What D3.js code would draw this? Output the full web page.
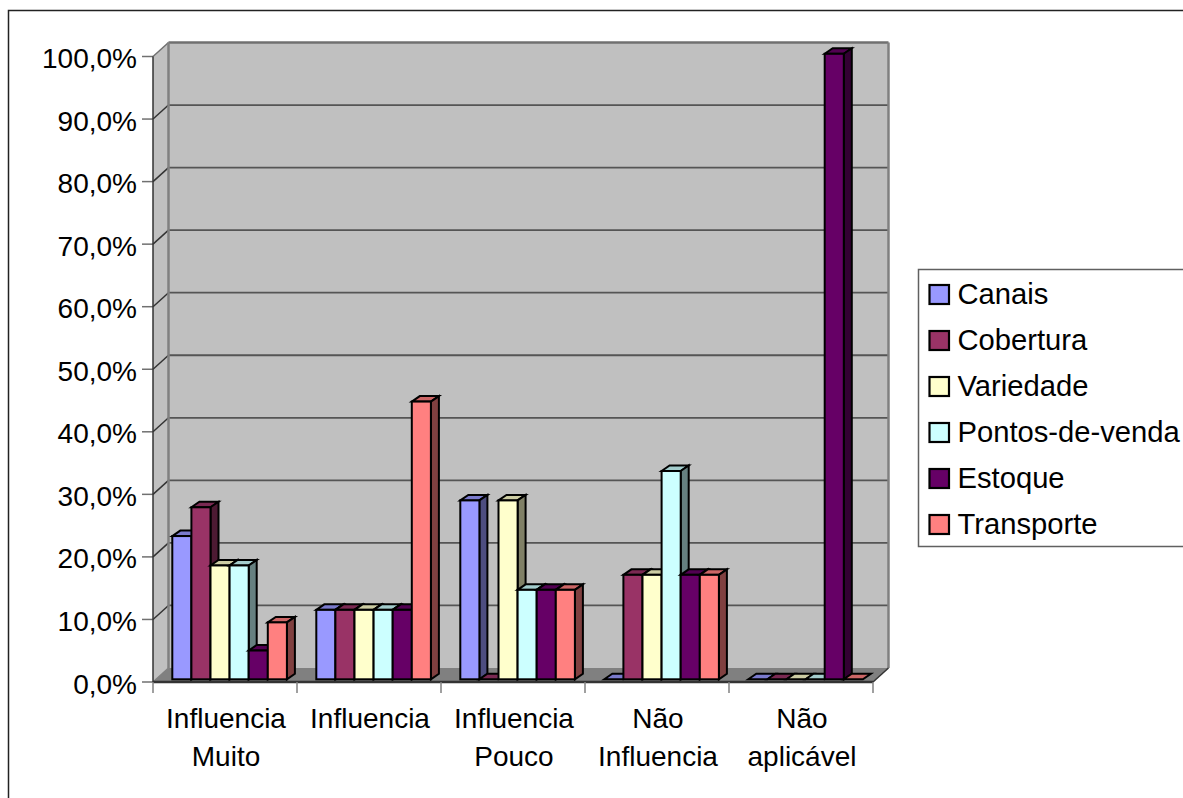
<!DOCTYPE html>
<html><head><meta charset="utf-8">
<script src="https://cdnjs.cloudflare.com/ajax/libs/d3/7.8.5/d3.min.js"></script>
<style>html,body{margin:0;padding:0;background:#fff;overflow:hidden}svg{display:block}text{font-family:"Liberation Sans",Arial,sans-serif;fill:#000}</style>
</head><body><div id="c"></div>
<script>
const categories = [["Influencia","Muito"],["Influencia"],["Influencia","Pouco"],["Não","Influencia"],["Não","aplicável"]];
const seriesNames = ["Canais","Cobertura","Variedade","Pontos-de-venda","Estoque","Transporte"];
const seriesColors = ["#9999ff","#993366","#ffffcc","#ccffff","#660066","#ff8080"];
const canais = [22.9,11.1,28.6,0,0];
const cobertura = [27.5,11.1,0,16.7,0];
const variedade = [18.2,11.1,28.6,16.7,0];
const pontos = [18.2,11.1,14.3,33.3,0];
const estoque = [4.6,11.1,14.3,16.7,100];
const transporte = [9.1,44.4,14.3,16.7,0];
const seriesValues = [canais,cobertura,variedade,pontos,estoque,transporte];
const yTicks = [0,10,20,30,40,50,60,70,80,90,100];

const W=1183,H=798;
const svg=d3.select("#c").append("svg").attr("width",W).attr("height",H);
// open frame: the reference is cropped on its right and bottom edges
svg.append("path").attr("d",`M8.5,${H+2}V10.5H${W+2}`).attr("fill","none").attr("stroke","#222").attr("stroke-width",1.5);

const x0=153,x1=873,yB=682,yT=56.5,dx=15.5,dy=14;
const y=d3.scaleLinear().domain([0,100]).range([yB,yT]);
const xg=d3.scaleBand().domain(d3.range(categories.length)).range([x0,x1]);
const xs=d3.scaleBand().domain(d3.range(seriesNames.length)).range([19.3,19.3+114.6]);
const poly=p=>p.map(d=>d.join(",")).join(" ");

// walls
svg.append("polygon").attr("points",poly([[x0,yT],[x0+dx,yT-dy],[x0+dx,yB-dy],[x0,yB]])).attr("fill","#c0c0c0");
svg.append("rect").attr("x",x0+dx).attr("y",yT-dy).attr("width",x1-x0).attr("height",yB-yT).attr("fill","#c0c0c0");
svg.append("polygon").attr("points",poly([[x0,yB],[x0+dx,yB-dy],[x1+dx,yB-dy],[x1,yB]])).attr("fill","#808080");
// gridlines
yTicks.forEach(t=>{
  if(t>0){
    svg.append("line").attr("x1",x0+dx).attr("x2",x1+dx).attr("y1",y(t)-dy).attr("y2",y(t)-dy).attr("stroke",t===100?"#707070":"#555").attr("stroke-width",t===100?2.5:1.8);
  }
  svg.append("line").attr("x1",x0).attr("x2",x0+dx).attr("y1",y(t)).attr("y2",y(t)-dy).attr("stroke",t===100?"#707070":t===0?"#808080":"#333").attr("stroke-width",1.5);
});
svg.append("line").attr("x1",x0+dx).attr("x2",x0+dx).attr("y1",yT-dy).attr("y2",yB-dy).attr("stroke","#808080").attr("stroke-width",2.5);
svg.append("line").attr("x1",x1+dx).attr("x2",x1+dx).attr("y1",yT-dy).attr("y2",yB-dy).attr("stroke","#808080").attr("stroke-width",2.5);
svg.append("line").attr("x1",x1).attr("x2",x1+dx).attr("y1",yB).attr("y2",yB-dy).attr("stroke","#333").attr("stroke-width",1.5);

// axes
const yAxis=d3.axisLeft(y).tickValues(yTicks).tickSize(0).tickPadding(16).tickFormat(d=>d.toFixed(1).replace(".",",")+"%");
const ya=svg.append("g").attr("transform",`translate(${x0},0)`).call(yAxis);
ya.select(".domain").remove();
ya.selectAll("text").attr("font-size",28).style("font-family",'"Liberation Sans"').attr("dy",null).attr("y",11);
yTicks.forEach(t=>svg.append("line").attr("x1",x0-11).attr("x2",x0).attr("y1",y(t)).attr("y2",y(t)).attr("stroke","#707070").attr("stroke-width",1.5));
svg.append("line").attr("x1",x0).attr("x2",x0).attr("y1",yT).attr("y2",yB).attr("stroke","#333").attr("stroke-width",1.5);
svg.append("line").attr("x1",x0).attr("x2",x1).attr("y1",yB).attr("y2",yB).attr("stroke","#333").attr("stroke-width",2.5);
d3.range(categories.length+1).forEach(i=>{
  const xp=x0+i*xg.bandwidth();
  svg.append("line").attr("x1",xp).attr("x2",xp).attr("y1",yB).attr("y2",yB+11).attr("stroke","#808080").attr("stroke-width",1.5);
});
categories.forEach((c,i)=>{
  const t=svg.append("text").attr("x",xg(i)+xg.bandwidth()/2).attr("text-anchor","middle").attr("font-size",28);
  c.forEach((l,j)=>t.append("tspan").attr("x",xg(i)+xg.bandwidth()/2+1).attr("y",728+j*38).text(l));
});

// bars
const oy=2.7,bdx=8,bdy=5.5;
const dark=(c,k)=>{const r=d3.rgb(c);return d3.rgb(r.r*k,r.g*k,r.b*k).formatHex();};
categories.forEach((c,i)=>{
  seriesNames.forEach((s,k)=>{
    const v=seriesValues[k][i];
    const col=seriesColors[k];
    const bx=xg(i)+xs(k), w=xs.bandwidth(), base=y(0)-oy, top=y(v)-oy;
    const g=svg.append("g").attr("stroke","#000").attr("stroke-width",2).attr("stroke-linejoin","miter");
    g.append("polygon").attr("points",poly([[bx,top],[bx+bdx,top-bdy],[bx+w+bdx,top-bdy],[bx+w,top]])).attr("fill",dark(col,0.8));
    if(v>0){
      g.append("polygon").attr("points",poly([[bx+w,top],[bx+w+bdx,top-bdy],[bx+w+bdx,base-bdy],[bx+w,base]])).attr("fill",dark(col,0.5));
      g.append("rect").attr("x",bx).attr("y",top).attr("width",w).attr("height",base-top).attr("fill",col);
    }
  });
});

// legend
svg.append("path").attr("d",`M${W+2},269.5H918.5V546.5H${W+2}`).attr("fill","#fff").attr("stroke","#606060").attr("stroke-width",1.5);
seriesNames.forEach((s,k)=>{
  const cy=294.5+k*46;
  svg.append("rect").attr("x",929.5).attr("y",cy-9.5).attr("width",19.5).attr("height",19).attr("fill",seriesColors[k]).attr("stroke","#000").attr("stroke-width",2.2);
  svg.append("text").attr("x",957.5).attr("y",cy+9).attr("font-size",29.2).text(s);
});
</script></body></html>
